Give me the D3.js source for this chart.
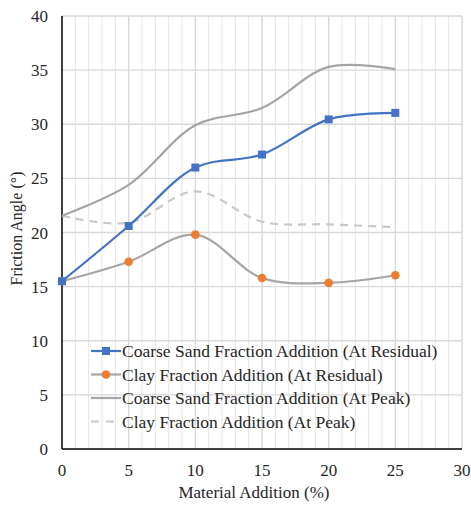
<!DOCTYPE html>
<html><head><meta charset="utf-8">
<script src="https://cdn.jsdelivr.net/npm/d3@7"></script>
<style>body{margin:0;background:#fff}svg{display:block}text{font-family:"Liberation Serif","Times New Roman",serif;fill:#262626}</style>
</head><body>
<svg id="c" width="471" height="506"></svg>
<script>
const xValues = [0, 5, 10, 15, 20, 25];
const coarseResidual = [15.5, 20.6, 26.0, 27.2, 30.45, 31.05];
const clayResidual = [15.5, 17.3, 19.8, 15.8, 15.35, 16.05];
const coarsePeak = [21.55, 24.4, 29.9, 31.5, 35.3, 35.1];
const clayPeak = [21.55, 20.9, 23.8, 21.0, 20.75, 20.5];
const seriesNames = ["Coarse Sand Fraction Addition (At Residual)", "Clay Fraction Addition (At Residual)", "Coarse Sand Fraction Addition (At Peak)", "Clay Fraction Addition (At Peak)"];
const xTicks = [0, 5, 10, 15, 20, 25, 30];
const yTicks = [0, 5, 10, 15, 20, 25, 30, 35, 40];
const xLabel = "Material Addition (%)";
const yLabel = "Friction Angle (°)";

const svg = d3.select("#c");
const L = 62, R = 462, T = 16, B = 449;
const x = d3.scaleLinear().domain([0, 30]).range([L, R]);
const y = d3.scaleLinear().domain([0, 40]).range([B, T]);

// grid
const g = svg.append("g");
g.selectAll(".vm").data(d3.range(1, 31)).enter().append("line")
  .attr("x1", d => x(d)).attr("x2", d => x(d)).attr("y1", T).attr("y2", B)
  .attr("stroke", "#e6e6e6").attr("stroke-width", 1);
g.selectAll(".hm").data(yTicks.slice(1)).enter().append("line")
  .attr("x1", L).attr("x2", R).attr("y1", d => y(d)).attr("y2", d => y(d))
  .attr("stroke", "#d9d9d9").attr("stroke-width", 1.3);
g.selectAll(".vM").data(xTicks.slice(1)).enter().append("line")
  .attr("x1", d => x(d)).attr("x2", d => x(d)).attr("y1", T).attr("y2", B)
  .attr("stroke", "#d9d9d9").attr("stroke-width", 1.3);

// axes
svg.append("line").attr("x1", L).attr("x2", L).attr("y1", T).attr("y2", B).attr("stroke", "#000").attr("stroke-width", 1.5);
svg.append("line").attr("x1", L).attr("x2", R).attr("y1", B).attr("y2", B).attr("stroke", "#000").attr("stroke-width", 1.5);

svg.selectAll(".yt").data(yTicks).enter().append("text")
  .attr("x", L - 14).attr("y", d => y(d) + 6).attr("text-anchor", "end")
  .attr("font-size", 17).text(d => d);
svg.selectAll(".xt").data(xTicks).enter().append("text")
  .attr("x", d => x(d)).attr("y", B + 27).attr("text-anchor", "middle")
  .attr("font-size", 17).text(d => d);
svg.append("text").attr("x", 254).attr("y", 498).attr("text-anchor", "middle").attr("font-size", 17).text(xLabel);
svg.append("text").attr("transform", `translate(22,${(T + B) / 2 - 4}) rotate(-90)`).attr("text-anchor", "middle").attr("font-size", 16).text(yLabel);

const line = d3.line().x((d, i) => x(xValues[i])).y(d => y(d)).curve(d3.curveCatmullRom.alpha(0.5));
const series = [
  {v: coarseResidual, color: "#4472C4", dash: null, marker: "square", mcolor: "#4472C4"},
  {v: clayResidual, color: "#A5A5A5", dash: null, marker: "circle", mcolor: "#ED7D31"},
  {v: coarsePeak, color: "#A5A5A5", dash: null, marker: null},
  {v: clayPeak, color: "#C8C8C8", dash: "8,6", marker: null}
];
[3, 2, 1, 0].forEach(k => {
  const s = series[k];
  svg.append("path").attr("d", line(s.v)).attr("fill", "none").attr("stroke", s.color)
    .attr("stroke-width", 2.2).attr("stroke-dasharray", s.dash);
});
[1, 0].forEach(k => {
  const s = series[k];
  s.v.forEach((d, i) => {
    if (s.marker === "square") svg.append("rect").attr("x", x(xValues[i]) - 4).attr("y", y(d) - 4).attr("width", 8).attr("height", 8).attr("fill", s.mcolor);
    else svg.append("circle").attr("cx", x(xValues[i])).attr("cy", y(d)).attr("r", 4.3).attr("fill", s.mcolor);
  });
});

// legend
const lg = svg.append("g");
series.forEach((s, i) => {
  const yy = 351 + i * 23.5;
  lg.append("line").attr("x1", 91).attr("x2", 121).attr("y1", yy).attr("y2", yy)
    .attr("stroke", s.color).attr("stroke-width", 2.2).attr("stroke-dasharray", s.dash ? "8,7" : null);
  if (s.marker === "square") lg.append("rect").attr("x", 102).attr("y", yy - 4).attr("width", 8).attr("height", 8).attr("fill", s.mcolor);
  if (s.marker === "circle") lg.append("circle").attr("cx", 106).attr("cy", yy).attr("r", 4.3).attr("fill", s.mcolor);
  lg.append("text").attr("x", 122).attr("y", yy + 6).attr("font-size", 17.5).text(seriesNames[i]);
});
</script>
</body></html>
